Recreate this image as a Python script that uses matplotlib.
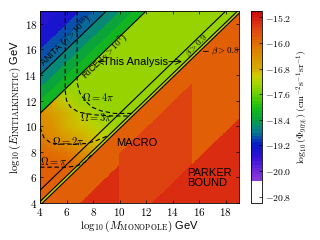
import numpy as np
import matplotlib.pyplot as plt
from matplotlib.colors import LinearSegmentedColormap, Normalize
from matplotlib.cm import ScalarMappable

plt.rcParams['mathtext.fontset'] = 'cm'
plt.rcParams['font.family'] = ['Liberation Sans', 'DejaVu Sans']

# --- Data ---
# boundaries in log10(gamma) = log10(E) - log10(M)
anita_g = 10.0
rice_g = 7.0
upper_g = 1.0
beta09_g = 0.11
beta08_g = -0.18
macro_g = -2.1
low_red_g = -3.0
parker_g = -8.4
macro_m = [10.0, 15.5]

# flux limits in the diagonal bands above the RICE line
band_edges = [7, 8, 9, 10, 11, 12, 13.5]
band_flux = [-18.15, -18.4, -18.6, -18.8, -19.0, -19.3, -19.5]

flux_mid = -17.35      # between beta>0.9 and RICE
flux_strip = -17.1     # between beta>0.8 and beta>0.9
flux_macro = -15.85
flux_macro_dark = -15.6
flux_parker = -15.3

# low-acceptance (Omega) corner, coarse table
blob_m = [4, 5, 6, 7, 8, 9, 10, 11]
blob_e = [4, 5, 6, 7, 8, 9, 10, 11, 12, 13]
blob_flux = [
    [-15.9, -15.9, -15.9, -15.9, -16.1, -16.6, -17.1, -17.35],
    [-15.9, -15.9, -15.9, -15.9, -16.1, -16.6, -17.1, -17.35],
    [-15.9, -15.9, -15.9, -16.0, -16.3, -16.8, -17.2, -17.35],
    [-15.9, -15.9, -15.95, -16.1, -16.5, -16.9, -17.25, -17.35],
    [-16.0, -16.05, -16.15, -16.4, -16.7, -17.0, -17.3, -17.35],
    [-16.2, -16.35, -16.55, -16.75, -16.95, -17.15, -17.3, -17.35],
    [-16.3, -16.5, -16.8, -17.0, -17.1, -17.25, -17.35, -17.35],
    [-16.4, -16.6, -16.9, -17.1, -17.25, -17.35, -17.35, -17.35],
    [-16.6, -16.9, -17.1, -17.3, -17.35, -17.35, -17.35, -17.35],
    [-17.3, -17.3, -17.3, -17.35, -17.35, -17.35, -17.35, -17.35],
]

# Omega contours (log10 M, log10 E)
omega_4pi_m = [6.8, 6.8, 7.0, 7.4, 7.9, 8.6, 9.6, 10.9]
omega_4pi_e = [19.0, 13.4, 12.6, 12.0, 11.5, 11.2, 11.0, 11.0]
omega_3pi_m = [5.9, 5.9, 6.0, 6.3, 6.9, 8.0, 9.5, 10.6]
omega_3pi_e = [19.0, 12.8, 12.0, 11.5, 11.1, 10.9, 10.8, 10.8]
omega_2pi_m = [4.0, 4.3, 4.8, 5.5, 6.5, 7.5, 8.3, 9.2]
omega_2pi_e = [9.9, 9.1, 8.7, 8.6, 8.6, 8.65, 8.9, 9.3]
omega_pi_m = [4.0, 5.0, 6.0, 6.8, 7.4, 7.9]
omega_pi_e = [6.8, 6.8, 6.8, 6.9, 7.2, 7.8]

cbar_ticks = [-15.2, -16.0, -16.8, -17.6, -18.4, -19.2, -20.0, -20.8]
xticks = [4, 6, 8, 10, 12, 14, 16, 18]
yticks = [4, 6, 8, 10, 12, 14, 16, 18]

# --- Colormap ---
cmap_pts = [
    (-21.0, '#ffffff'), (-20.33, '#ffffff'), (-20.32, '#8a3ad8'),
    (-20.0, '#6a28d8'), (-19.6, '#3010d8'), (-19.2, '#0818c8'),
    (-19.0, '#0848b0'), (-18.8, '#087890'), (-18.6, '#08906c'),
    (-18.4, '#08a040'), (-18.0, '#18c010'), (-17.6, '#68d000'),
    (-17.2, '#b0d400'), (-17.0, '#d0cc00'), (-16.8, '#d4ac00'),
    (-16.4, '#dc9000'), (-16.0, '#e07000'), (-15.6, '#e04c10'),
    (-15.2, '#d82010'), (-15.0, '#d00808'),
]
vmin, vmax = -21.0, -15.0
cmap = LinearSegmentedColormap.from_list(
    'flux', [((v - vmin) / (vmax - vmin), c) for v, c in cmap_pts]).resampled(60)
norm = Normalize(vmin, vmax)

# --- Field ---
m = np.linspace(4, 19, 601)
e = np.linspace(4, 19, 601)
M, E = np.meshgrid(m, e)
G = E - M
Z = np.full(M.shape, flux_macro)
Z[G >= beta08_g] = flux_strip
Z[G >= beta09_g] = flux_mid
bi = np.digitize(G, band_edges) - 1
Z[G >= rice_g] = np.array(band_flux)[bi[G >= rice_g]]
Z[(G < macro_g) & (M >= macro_m[0]) & (M < macro_m[1])] = flux_macro_dark
Z[((G < low_red_g) & (M < macro_m[0])) | (G < parker_g)] = flux_parker

# hole where the smooth Omega corner shows through
in_blob = ((G >= beta09_g) & (G < rice_g) & (M <= blob_m[-1]) & (E <= blob_e[-1]))
Zm = np.ma.masked_where(in_blob, Z)

fig = plt.figure(figsize=(3.2, 2.4), dpi=100)
ax = fig.add_axes([0.125, 0.154, 0.622, 0.8])
ax.pcolormesh(blob_m, blob_e, np.array(blob_flux), cmap=cmap, norm=norm,
              shading='gouraud', zorder=0)
ax.pcolormesh(M, E, Zm, cmap=cmap, norm=norm, shading='nearest', zorder=0.5)

# lines
xl = np.array([4, 19])
for g in [anita_g, rice_g, upper_g, beta09_g, beta08_g]:
    ax.plot(xl, xl + g, color='black', lw=0.8)
for om, oe in [(omega_4pi_m, omega_4pi_e), (omega_3pi_m, omega_3pi_e),
               (omega_2pi_m, omega_2pi_e), (omega_pi_m, omega_pi_e)]:
    ax.plot(om, oe, color='black', lw=0.8, ls=(0, (4, 2.5)))

# labels
ax.text(5.9, 16.7, r'ANITA ($\gamma>10^{10}$)', rotation=45, fontsize=6.5,
        ha='center', va='center', rotation_mode='anchor')
ax.text(8.9, 15.45, r'RICE ($\gamma>10^{7}$)', rotation=45, fontsize=6.5,
        ha='center', va='center', rotation_mode='anchor')
ax.text(11.2, 15.05, 'This Analysis', fontsize=8, ha='center', va='center')
ax.annotate('', xy=(8.1, 15.05), xytext=(9.0, 15.05),
            arrowprops=dict(arrowstyle='->', lw=0.6, color='black'))
ax.annotate('', xy=(14.9, 15.05), xytext=(13.5, 15.05),
            arrowprops=dict(arrowstyle='->', lw=0.6, color='black'))
ax.text(15.85, 16.25, r'$\beta>0.9$', rotation=45, fontsize=6.5,
        ha='center', va='center', rotation_mode='anchor')
ax.text(16.9, 15.85, r'$\beta>0.8$', fontsize=6.5, ha='left', va='center')
ax.annotate('', xy=(16.1, 15.85), xytext=(16.9, 15.85),
            arrowprops=dict(arrowstyle='-', lw=0.6, color='black'))
ax.text(8.4, 12.3, r'$\Omega=4\pi$', fontsize=7.5, ha='center', va='center')
ax.text(8.2, 10.7, r'$\Omega=3\pi$', fontsize=7.5, ha='center', va='center')
ax.text(6.1, 8.8, r'$\Omega=2\pi$', fontsize=7.5, ha='center', va='center')
ax.text(5.0, 7.3, r'$\Omega=\pi$', fontsize=7.5, ha='center', va='center')
ax.text(11.3, 8.7, 'MACRO', fontsize=8, ha='center', va='center')
ax.text(15.1, 5.95, 'PARKER\nBOUND', fontsize=8, ha='left', va='center',
        linespacing=1.1)

ax.set_xlim(4, 19)
ax.set_ylim(4, 19)
ax.set_xticks(xticks)
ax.set_yticks(yticks)
ax.set_xticklabels([f'${t}$' for t in xticks], fontsize=8)
ax.set_yticklabels([f'${t}$' for t in yticks], fontsize=8)
ax.tick_params(direction='in', length=2.5, width=0.5, top=True, right=True, pad=2)
for s in ax.spines.values():
    s.set_linewidth(0.6)
ax.set_xlabel(r'$\log_{10}(M_{\mathrm{MONOPOLE}})$ GeV', fontsize=8, labelpad=1)
ax.set_ylabel(r'$\log_{10}(E_{\mathrm{INITIALKINETIC}})$ GeV', fontsize=8, labelpad=1)

# colorbar
cax = fig.add_axes([0.784, 0.154, 0.034, 0.8])
cb = fig.colorbar(ScalarMappable(norm=norm, cmap=cmap), cax=cax, ticks=cbar_ticks)
cb.ax.set_yticklabels([f'${t:.1f}$' for t in cbar_ticks], fontsize=7)
cb.ax.tick_params(direction='in', length=2, width=0.5, pad=2)
cb.outline.set_linewidth(0.6)
cb.set_label(r'$\log_{10}(\Phi_{90\%})\ (\mathrm{cm^{-2}s^{-1}sr^{-1}})$',
             fontsize=7, labelpad=2)

fig.savefig('out.png', dpi=100)
